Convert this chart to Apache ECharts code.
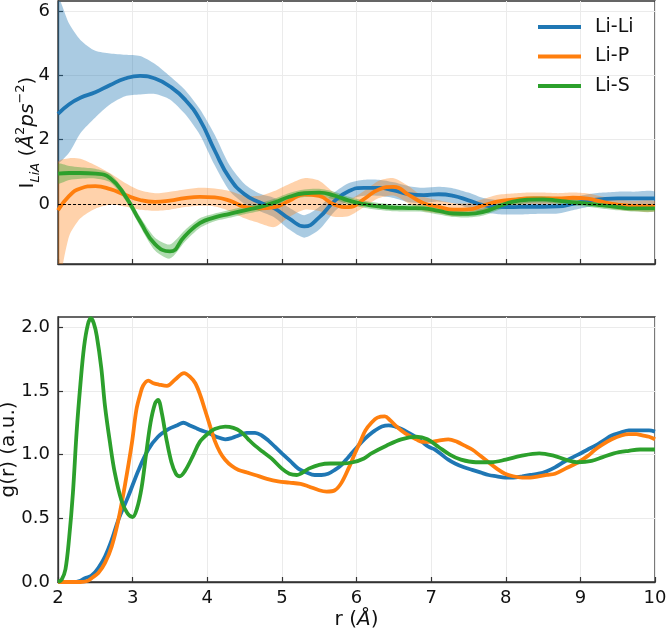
<!DOCTYPE html>
<html><head><meta charset="utf-8">
<script src="https://cdn.jsdelivr.net/npm/echarts@6/dist/echarts.min.js"></script>
<style>html,body{margin:0;padding:0;background:#fff}#c{width:666px;height:628px}</style>
</head><body><div id="c"></div>
<script>
const seriesNames = ['Li-Li', 'Li-P', 'Li-S'];
const colors = ['#1f77b4', '#ff7f0e', '#2ca02c'];
const bandColors = ['rgba(31,119,180,0.38)', 'rgba(255,127,14,0.35)', 'rgba(44,160,44,0.38)'];

const xTicks = [2, 3, 4, 5, 6, 7, 8, 9, 10];
const topYTicks = [0, 2, 4, 6];
const bottomYTicks = [0, 0.5, 1.0, 1.5, 2.0];

// ---- top panel: I_LiA with uncertainty band ----
const rTop = [2.0,2.15,2.3,2.5,2.7,2.9,3.1,3.3,3.5,3.7,3.9,4.1,4.3,4.5,4.7,4.9,5.1,5.3,5.5,5.7,5.9,6.1,6.3,6.5,6.7,6.9,7.1,7.3,7.5,7.7,7.9,8.1,8.3,8.5,8.7,8.9,9.1,9.3,9.5,9.7,10.0];

const liLiMean  = [2.80,3.10,3.30,3.47,3.70,3.90,3.98,3.90,3.65,3.25,2.62,1.66,0.80,0.30,0.05,-0.14,-0.46,-0.70,-0.42,0.08,0.40,0.50,0.50,0.42,0.30,0.27,0.30,0.25,0.11,-0.04,-0.09,-0.10,-0.09,-0.09,-0.08,0.00,0.10,0.15,0.17,0.17,0.17];
const liLiUpper = [6.4,5.6,5.1,4.76,4.68,4.64,4.60,4.35,3.97,3.55,2.95,2.15,1.20,0.62,0.32,0.18,-0.12,-0.35,-0.10,0.35,0.65,0.75,0.75,0.67,0.55,0.50,0.53,0.48,0.35,0.18,0.12,0.11,0.12,0.12,0.13,0.20,0.30,0.35,0.38,0.38,0.38];
const liLiLower = [1.3,1.6,2.2,2.69,3.10,3.35,3.40,3.42,3.25,2.80,2.15,1.20,0.40,0.00,-0.22,-0.42,-0.80,-1.05,-0.80,-0.25,0.12,0.25,0.25,0.18,0.05,0.03,0.07,0.02,-0.13,-0.27,-0.32,-0.33,-0.32,-0.31,-0.30,-0.20,-0.10,-0.05,-0.03,-0.03,-0.03];

const liPMean  = [-0.20,0.25,0.48,0.55,0.46,0.28,0.12,0.06,0.10,0.18,0.22,0.20,0.10,-0.09,-0.14,-0.10,0.10,0.30,0.25,-0.02,-0.10,0.15,0.45,0.53,0.28,0.02,-0.09,-0.18,-0.17,-0.05,0.08,0.13,0.17,0.17,0.17,0.19,0.16,0.06,-0.02,-0.06,-0.07];
const liPUpper = [1.30,1.42,1.40,1.20,0.95,0.65,0.42,0.33,0.38,0.45,0.50,0.48,0.40,0.25,0.25,0.40,0.62,0.80,0.72,0.35,0.15,0.40,0.72,0.80,0.55,0.22,0.11,0.02,0.02,0.15,0.28,0.32,0.35,0.35,0.33,0.35,0.32,0.22,0.14,0.10,0.09];
const liPLower = [-2.5,-1.0,-0.45,-0.15,-0.03,-0.08,-0.18,-0.21,-0.18,-0.10,-0.06,-0.08,-0.22,-0.45,-0.60,-0.72,-0.40,-0.18,-0.22,-0.40,-0.38,-0.10,0.18,0.26,0.01,-0.22,-0.29,-0.38,-0.36,-0.25,-0.12,-0.06,-0.01,-0.01,0.01,0.03,0.00,-0.10,-0.18,-0.22,-0.23];

const liSMean  = [0.94,0.96,0.96,0.94,0.80,0.25,-0.55,-1.25,-1.48,-1.00,-0.60,-0.42,-0.31,-0.20,-0.10,0.04,0.22,0.33,0.35,0.26,0.10,-0.01,-0.08,-0.12,-0.13,-0.14,-0.22,-0.30,-0.31,-0.25,-0.08,0.07,0.13,0.14,0.10,0.05,0.01,-0.05,-0.10,-0.14,-0.14];
const liSUpper = [1.24,1.18,1.14,1.09,0.93,0.38,-0.40,-1.05,-1.26,-0.82,-0.45,-0.30,-0.19,-0.08,0.02,0.16,0.34,0.45,0.47,0.38,0.22,0.10,0.03,-0.01,-0.02,-0.03,-0.11,-0.19,-0.20,-0.14,0.03,0.18,0.23,0.24,0.20,0.15,0.11,0.05,0.00,-0.04,-0.04];
const liSLower = [0.64,0.74,0.78,0.79,0.67,0.12,-0.70,-1.45,-1.70,-1.18,-0.75,-0.54,-0.43,-0.32,-0.22,-0.08,0.10,0.21,0.23,0.14,-0.02,-0.12,-0.19,-0.23,-0.24,-0.25,-0.33,-0.41,-0.42,-0.36,-0.19,-0.04,0.03,0.04,0.00,-0.05,-0.09,-0.15,-0.20,-0.24,-0.24];

// ---- bottom panel: g(r) ----
const rGLiLi = [2.0,2.2,2.3,2.36,2.45,2.54,2.63,2.72,2.81,2.94,3.08,3.21,3.34,3.48,3.6,3.68,3.76,3.84,3.92,4.02,4.12,4.24,4.33,4.42,4.53,4.64,4.73,4.82,4.91,5.0,5.11,5.22,5.33,5.44,5.53,5.62,5.71,5.8,5.89,5.98,6.07,6.16,6.25,6.34,6.43,6.52,6.61,6.7,6.79,6.88,6.97,7.05,7.14,7.23,7.32,7.44,7.55,7.66,7.77,7.88,7.99,8.1,8.22,8.33,8.44,8.55,8.66,8.8,8.97,9.1,9.2,9.31,9.42,9.53,9.65,9.75,9.83,9.92,10.0];
const gLiLi  = [0.0,0.0,0.01,0.03,0.05,0.11,0.20,0.33,0.49,0.67,0.88,1.04,1.14,1.20,1.23,1.25,1.23,1.21,1.19,1.17,1.14,1.12,1.13,1.15,1.17,1.17,1.15,1.11,1.06,1.01,0.95,0.89,0.86,0.84,0.84,0.85,0.88,0.92,0.98,1.04,1.10,1.15,1.19,1.22,1.23,1.22,1.20,1.17,1.14,1.10,1.06,1.04,1.00,0.96,0.93,0.90,0.88,0.86,0.84,0.83,0.82,0.82,0.83,0.84,0.85,0.87,0.90,0.95,1.00,1.04,1.07,1.11,1.15,1.17,1.19,1.19,1.19,1.19,1.18];

const rGLiP = [2.0,2.3,2.4,2.45,2.54,2.63,2.72,2.81,2.9,2.99,3.05,3.1,3.14,3.21,3.28,3.35,3.46,3.57,3.69,3.77,3.84,3.91,3.97,4.04,4.1,4.17,4.24,4.33,4.42,4.53,4.64,4.8,4.95,5.1,5.25,5.36,5.5,5.6,5.71,5.8,5.9,5.98,6.05,6.12,6.2,6.28,6.38,6.45,6.52,6.6,6.7,6.8,6.88,7.0,7.1,7.23,7.35,7.45,7.55,7.66,7.77,7.88,7.99,8.1,8.22,8.33,8.44,8.55,8.66,8.8,8.97,9.1,9.2,9.3,9.42,9.55,9.65,9.75,9.83,9.92,10.0];
const gLiP  = [0.0,0.0,0.01,0.03,0.07,0.15,0.28,0.49,0.77,1.09,1.35,1.47,1.54,1.58,1.56,1.55,1.54,1.59,1.64,1.61,1.56,1.46,1.35,1.22,1.11,1.02,0.96,0.91,0.88,0.86,0.84,0.81,0.79,0.78,0.77,0.75,0.72,0.71,0.72,0.78,0.90,1.01,1.10,1.19,1.25,1.29,1.30,1.27,1.23,1.19,1.15,1.12,1.10,1.10,1.11,1.12,1.10,1.07,1.04,0.99,0.94,0.89,0.85,0.83,0.82,0.82,0.83,0.84,0.85,0.89,0.94,0.99,1.04,1.08,1.12,1.15,1.16,1.16,1.15,1.14,1.12];

const rGLiS = [2.0,2.05,2.1,2.15,2.2,2.25,2.3,2.35,2.4,2.44,2.48,2.52,2.58,2.63,2.7,2.76,2.85,2.93,3.0,3.06,3.12,3.18,3.24,3.3,3.34,3.39,3.45,3.52,3.58,3.63,3.7,3.8,3.9,4.0,4.1,4.24,4.35,4.45,4.55,4.64,4.75,4.86,5.0,5.1,5.2,5.36,5.5,5.65,5.8,5.95,6.1,6.2,6.4,6.6,6.8,6.95,7.1,7.25,7.4,7.6,7.8,8.0,8.2,8.45,8.65,8.8,8.97,9.15,9.3,9.45,9.65,9.8,10.0];
const gLiS  = [0.0,0.02,0.10,0.35,0.70,1.18,1.55,1.85,2.02,2.07,2.03,1.93,1.68,1.38,1.08,0.86,0.64,0.54,0.51,0.58,0.74,1.00,1.25,1.40,1.43,1.33,1.13,0.94,0.85,0.83,0.87,0.98,1.10,1.16,1.20,1.22,1.21,1.18,1.12,1.07,1.02,0.97,0.89,0.85,0.84,0.89,0.92,0.93,0.93,0.94,0.97,1.01,1.07,1.12,1.14,1.12,1.06,1.00,0.96,0.94,0.94,0.96,0.99,1.01,0.99,0.96,0.94,0.95,0.98,1.01,1.03,1.04,1.04];

// ---- build ----
const FONT = 'DejaVu Sans';
const AX = '#333';
const TXT = '#111';
const pairs = (xs, ys) => xs.map((x, i) => [x, ys[i]]);

const topSets = [
  {mean: liLiMean, up: liLiUpper, lo: liLiLower},
  {mean: liPMean, up: liPUpper, lo: liPLower},
  {mean: liSMean, up: liSUpper, lo: liSLower}
];
const bottomSets = [[rGLiLi, gLiLi], [rGLiP, gLiP], [rGLiS, gLiS]];

const series = [];
topSets.forEach((s, k) => {
  series.push({
    type: 'custom', xAxisIndex: 0, yAxisIndex: 0, silent: true, clip: true, z: 1,
    data: rTop.map((r, i) => [r, s.lo[i], s.up[i]]),
    encode: {x: 0, y: [1, 2]},
    renderItem: function (params, api) {
      if (params.dataIndex !== 0) return null;
      const upPts = rTop.map((r, i) => api.coord([r, s.up[i]]));
      const loPts = rTop.map((r, i) => api.coord([r, s.lo[i]])).reverse();
      const cs = params.coordSys;
      return {
        type: 'group',
        clipPath: {type: 'rect', shape: {x: cs.x, y: cs.y, width: cs.width, height: cs.height}},
        children: [{
          type: 'polygon',
          shape: {points: upPts.concat(loPts), smooth: 0.25},
          style: {fill: bandColors[k], stroke: null}
        }]
      };
    }
  });
});
topSets.forEach((s, k) => {
  const sr = {
    name: seriesNames[k], type: 'line', xAxisIndex: 0, yAxisIndex: 0,
    data: pairs(rTop, s.mean), symbol: 'none', smooth: true,
    lineStyle: {color: colors[k], width: 3.8}, itemStyle: {color: colors[k]}, z: 3
  };
  if (k === 2) {
    sr.markLine = {
      silent: true, symbol: 'none', label: {show: false},
      lineStyle: {color: '#000', type: [3, 2], width: 1},
      data: [{yAxis: 0}], z: 5
    };
  }
  series.push(sr);
});
bottomSets.forEach((s, k) => {
  series.push({
    name: seriesNames[k], type: 'line', xAxisIndex: 1, yAxisIndex: 1,
    data: pairs(s[0], s[1]), symbol: 'none', smooth: 0.35,
    lineStyle: {color: colors[k], width: 3.8}, itemStyle: {color: colors[k]}, z: 3
  });
});

const commonX = {
  type: 'value', min: 2, max: 10, interval: 1,
  axisLine: {onZero: false, lineStyle: {color: AX, width: 1.3}},
  axisTick: {inside: true, length: 5, lineStyle: {color: AX, width: 1.2}},
  splitLine: {show: true, lineStyle: {color: '#ebebeb', width: 1}}
};

const gridCommon = {
  show: true, borderColor: AX, borderWidth: 1.3, backgroundColor: 'transparent',
  containLabel: false, outerBoundsMode: 'none'
};

const option = {
  animation: false,
  backgroundColor: '#fff',
  grid: [
    Object.assign({left: 58, top: 1, width: 597, height: 263}, gridCommon),
    Object.assign({left: 58, top: 317, width: 597, height: 265}, gridCommon)
  ],
  legend: {
    data: seriesNames, orient: 'vertical', left: 533, top: 12,
    icon: 'rect', itemWidth: 43, itemHeight: 4, itemGap: 9.5,
    textStyle: {fontSize: 19, fontFamily: FONT, color: TXT, lineHeight: 20, padding: [0, 0, 0, 9]}
  },
  xAxis: [
    Object.assign({}, commonX, {gridIndex: 0, axisLabel: {show: false}}),
    Object.assign({}, commonX, {
      gridIndex: 1,
      axisLabel: {fontSize: 18, fontFamily: FONT, color: TXT, margin: 7, customValues: xTicks},
      name: '{n|r (}{i|Å}{n|)}', nameLocation: 'middle', nameGap: 28, nameMoveOverlap: false,
      nameTextStyle: {rich: {
        n: {fontSize: 20, fontFamily: FONT, color: TXT},
        i: {fontSize: 20, fontFamily: FONT, fontStyle: 'italic', color: TXT}
      }}
    })
  ],
  yAxis: [
    {
      gridIndex: 0, type: 'value', min: -1.87, max: 6.31,
      axisLine: {lineStyle: {color: AX, width: 1.3}},
      axisTick: {inside: true, length: 5, lineStyle: {color: AX, width: 1.2}, customValues: topYTicks},
      axisLabel: {fontSize: 18, fontFamily: FONT, color: TXT, margin: 8, customValues: topYTicks},
      splitLine: {show: true, lineStyle: {color: '#ebebeb', width: 1}},
      name: '{n|I}{sub|LiA}{n| (}{i|Å}{sup|2}{i|ps}{sup|−2}{n|)}',
      nameLocation: 'middle', nameRotate: 90, nameGap: 16, nameMoveOverlap: false,
      nameTextStyle: {rich: {
        n: {fontSize: 20, fontFamily: FONT, color: TXT, lineHeight: 28},
        i: {fontSize: 20, fontFamily: FONT, fontStyle: 'italic', color: TXT, lineHeight: 28},
        sub: {fontSize: 13, fontFamily: FONT, fontStyle: 'italic', color: TXT, verticalAlign: 'bottom', lineHeight: 13},
        sup: {fontSize: 13, fontFamily: FONT, color: TXT, verticalAlign: 'top', lineHeight: 13}
      }}
    },
    {
      gridIndex: 1, type: 'value', min: 0, max: 2.08, interval: 0.5,
      axisLine: {lineStyle: {color: AX, width: 1.3}},
      axisTick: {inside: true, length: 5, lineStyle: {color: AX, width: 1.2}, customValues: bottomYTicks},
      axisLabel: {fontSize: 18, fontFamily: FONT, color: TXT, margin: 8, customValues: bottomYTicks,
                  formatter: v => Number(v).toFixed(1)},
      splitLine: {show: true, lineStyle: {color: '#ebebeb', width: 1}},
      name: 'g(r) (a.u.)', nameLocation: 'middle', nameRotate: 90, nameGap: 39, nameMoveOverlap: false,
      nameTextStyle: {fontSize: 20, fontFamily: FONT, color: TXT}
    }
  ],
  series: series
};

const chart = echarts.init(document.getElementById('c'), null, {renderer: 'canvas'});
chart.setOption(option);
</script>
</body></html>
